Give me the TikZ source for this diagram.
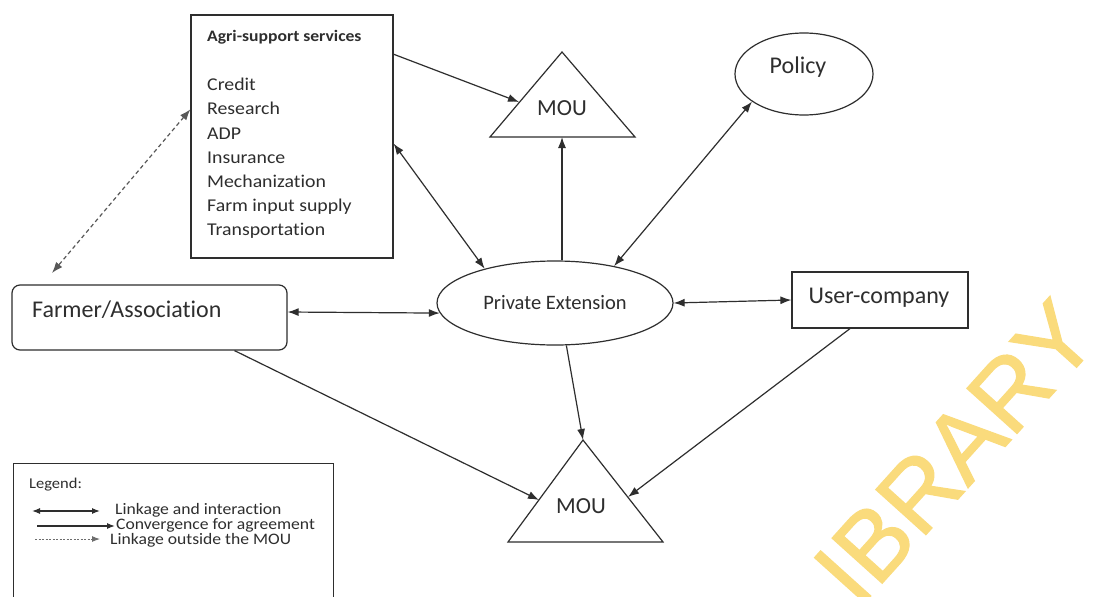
\documentclass[tikz,border=0pt]{standalone}
\usepackage{fontspec}
\defaultfontfeatures{Ligatures={NoCommon}}
\setmainfont{Carlito}
\newfontfamily\itemfont[FakeStretch=1.1]{Carlito}
\newfontfamily\legfont[FakeStretch=1.1]{Carlito}
\newfontfamily\wmfont[FakeBold=1.2]{Liberation Sans}
\usetikzlibrary{arrows.meta,shapes.geometric}
\definecolor{ink}{HTML}{2E2E2E}
\definecolor{wmyellow}{HTML}{FADB7C}
\tikzset{
  box/.style={draw=ink, line width=1.2pt, inner sep=0pt},
  oval/.style={draw=ink, line width=1.2pt, ellipse, inner sep=0pt},
  lbl/.style={text=ink, inner sep=0pt},
  tip/.tip={Latex[length=11pt,width=8pt]},
  smalltip/.tip={Latex[length=8pt,width=6pt]},
  link/.style={draw=ink, line width=1.2pt, tip-tip},
  conv/.style={draw=ink, line width=1.2pt, -tip},
  outside/.style={draw=ink!80, line width=1.2pt, dash pattern=on 4pt off 3pt, tip-tip},
}
\begin{document}
\begin{tikzpicture}[x=1pt,y=-1pt]
\useasboundingbox (0,0) rectangle (1095,597);
\clip (0,0) rectangle (1095,597);
\fill[white] (0,0) rectangle (1095,597);

% watermark
\node[rotate=48, text=wmyellow, inner sep=0pt,
      font=\wmfont\fontsize{98}{98}\selectfont] (wm) at (955,452) {IBRARY};

% agri-support services box
\node[box, minimum width=202pt, minimum height=243pt] (agri) at (292,136.5) {};
\node[lbl, anchor=base west, font=\itemfont\bfseries\fontsize{16}{18}\selectfont]
  (agrititle) at (207,41) {Agri-support services};
\node[lbl, anchor=north west, align=left, font=\itemfont\fontsize{18}{24.2}\selectfont]
  (agrilist) at (207,78) {Credit\\Research\\ADP\\Insurance\\Mechanization\\Farm input supply\\Transportation};

% farmer / association
\node[box, rounded corners=8pt, minimum width=275pt, minimum height=65pt] (farmer) at (149.5,317.5) {};
\node[lbl, anchor=base west, font=\fontsize{24}{28}\selectfont] (farmertxt) at (32,317) {Farmer/Association};

% private extension
\node[oval, minimum width=236pt, minimum height=84pt, font=\fontsize{20.5}{24}\selectfont, text=ink] (pe) at (555,303) {Private Extension};

% policy
\node[oval, minimum width=138pt, minimum height=82pt] (policy) at (804,74) {};
\node[lbl, anchor=base, font=\fontsize{24}{28}\selectfont] (policytxt) at (798,73) {Policy};

% user-company
\node[box, minimum width=176pt, minimum height=56pt] (user) at (880,300) {};
\node[lbl, anchor=base, font=\fontsize{24}{28}\selectfont] (usertxt) at (879,303) {User-company};

% upper MOU
\draw[ink, line width=1.2pt] (562,52) coordinate (mouAtop) -- (635,137) coordinate (mouAr) -- (490,137) coordinate (mouAl) -- cycle;
\node[lbl, anchor=base, font=\fontsize{23}{26}\selectfont] (mouA) at (562,115) {MOU};
\coordinate (mouAin) at (519,102);
\coordinate (mouAbase) at (562,137);

% lower MOU
\draw[ink, line width=1.2pt] (583,440) coordinate (mouBtop) -- (663,542) coordinate (mouBr) -- (508,542) coordinate (mouBl) -- cycle;
\node[lbl, anchor=base, font=\fontsize{23}{26}\selectfont] (mouB) at (581,513) {MOU};
\coordinate (mouBleft) at (539,500);
\coordinate (mouBright) at (628,497);

% connectors
\draw[conv] (agri.39) -- (mouAin);
\draw[link] (agri.-4) -- (pe.154);
\draw[conv] (pe.north -| mouAbase) -- (mouAbase);
\draw[link] (policy.208) -- (pe.32);
\draw[link] ([yshift=5.5pt]farmer.east) -- (pe.185);
\draw[link] (pe.east) -- (user.west);
\draw[conv] ([xshift=85pt]farmer.south) -- (mouBleft);
\draw[conv] (pe.-75) -- (mouBtop);
\draw[conv] ([xshift=-30pt]user.south) -- (mouBright);
\coordinate (dashend) at (52,273);
\draw[outside] (agri.165) -- (dashend);

% legend
\node[box, anchor=north west, minimum width=320pt, minimum height=170pt] (legend) at (13,463) {};
\node[lbl, anchor=west, font=\legfont\fontsize{15}{17}\selectfont] (legtitle) at (29,485) {Legend:};
\coordinate (l1a) at (32,511); \coordinate (l1b) at (100,511);
\coordinate (l2a) at (37,526); \coordinate (l2b) at (115,526);
\coordinate (l3a) at (35,539); \coordinate (l3b) at (100,539);
\draw[draw=ink, line width=1.2pt, smalltip-smalltip] (l1a) -- (l1b);
\draw[draw=ink, line width=1.2pt, -smalltip] (l2a) -- (l2b);
\draw[draw=ink!70, line width=1pt, dash pattern=on 2pt off 1.5pt, -smalltip] (l3a) -- (l3b);
\node[lbl, anchor=west, font=\legfont\fontsize{16}{18}\selectfont] (leg1) at (115,510) {Linkage and interaction};
\node[lbl, anchor=west, font=\legfont\fontsize{16}{18}\selectfont] (leg2) at (116,525.5) {Convergence for agreement};
\node[lbl, anchor=west, font=\legfont\fontsize{16}{18}\selectfont] (leg3) at (110,540) {Linkage outside the MOU};
\end{tikzpicture}
\end{document}
